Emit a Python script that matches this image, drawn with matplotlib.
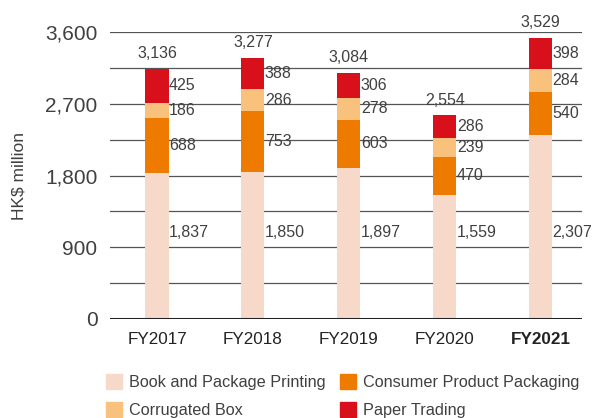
import numpy as np
import matplotlib.pyplot as plt
from matplotlib.patches import Patch

plt.rcParams['font.family'] = ['Liberation Sans', 'DejaVu Sans']

# data
years = ['FY2017', 'FY2018', 'FY2019', 'FY2020', 'FY2021']
book = [1837, 1850, 1897, 1559, 2307]
consumer = [688, 753, 603, 470, 540]
corrugated = [186, 286, 278, 239, 284]
paper = [425, 388, 306, 286, 398]
totals = [3136, 3277, 3084, 2554, 3529]

series = [
    ('Book and Package Printing', book, '#f7d9c9'),
    ('Consumer Product Packaging', consumer, '#ee7a00'),
    ('Corrugated Box', corrugated, '#f8c27c'),
    ('Paper Trading', paper, '#d7101c'),
]

text_color = '#404040'

fig = plt.figure(figsize=(5.95, 4.18), dpi=100)
ax = fig.add_axes([110 / 595, 1 - 319 / 418, 472 / 595, 287 / 418])

x = np.arange(len(years))
width = 0.24
bottom = np.zeros(len(years))
for i, (name, vals, color) in enumerate(series):
    vals = np.array(vals)
    ax.bar(x, vals, width, bottom=bottom, color=color, zorder=3, label=name)
    for xi, b, v in zip(x, bottom, vals):
        # bottom segment labels sit lower, others at middle of segment
        y = 1080 if i == 0 else b + v / 2
        ax.text(xi + width / 2 + 0.005, y, f'{v:,}', ha='left', va='center',
                fontsize=11.5, color=text_color, zorder=4)
    bottom += vals

for xi, t in zip(x, totals):
    ax.annotate(f'{t:,}', (xi, t), xytext=(0, 5.5), textcoords='offset points',
                ha='center', va='bottom', fontsize=11.5, color=text_color)

# grid
for g in np.arange(450, 3601, 450):
    ax.axhline(g, color='#555555', lw=0.9, zorder=1)
ax.axhline(0, color='#222222', lw=2.2, zorder=5)

ax.set_xlim(-0.49, 4.43)
ax.set_ylim(0, 3600)
ax.set_yticks([0, 900, 1800, 2700, 3600])
ax.set_yticklabels(['0', '900', '1,800', '2,700', '3,600'])
ax.tick_params(axis='y', length=0, pad=9, labelsize=15, labelcolor=text_color)
ax.set_xticks(x)
ax.set_xticklabels(years)
ax.tick_params(axis='x', length=0, pad=9, labelsize=12.3, labelcolor='#222222')
for lbl in ax.get_xticklabels():
    lbl.set_fontweight('bold' if lbl.get_text() == 'FY2021' else 'normal')

for s in ax.spines.values():
    s.set_visible(False)

ax.set_ylabel('HK$ million', fontsize=12.5, color=text_color)
ax.yaxis.set_label_coords(-0.177, 0.5)

handles = [Patch(color=series[0][2], label=series[0][0]),
           Patch(color=series[2][2], label=series[2][0]),
           Patch(color=series[1][2], label=series[1][0]),
           Patch(color=series[3][2], label=series[3][0])]
fig.legend(handles=handles, ncol=2, loc='upper left', bbox_to_anchor=(0.178, 0.105),
           frameon=False, fontsize=11.7, handlelength=1.0, handleheight=1.0,
           handletextpad=0.45, columnspacing=0.85, labelspacing=0.75,
           borderaxespad=0, borderpad=0, labelcolor=text_color)

fig.savefig('out.png', dpi=100)
